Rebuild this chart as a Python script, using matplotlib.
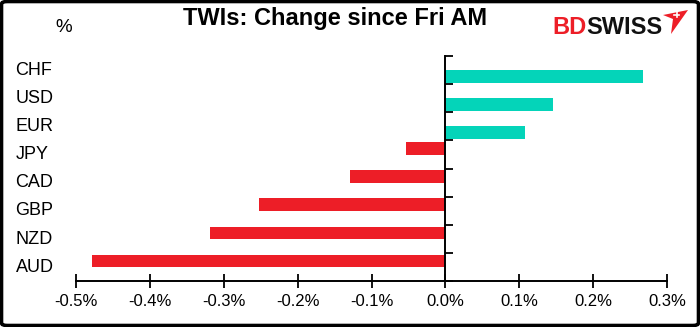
import matplotlib
matplotlib.use("Agg")
import matplotlib.pyplot as plt
from matplotlib.patches import FancyBboxPatch, Polygon
from matplotlib.lines import Line2D
from matplotlib.transforms import blended_transform_factory
from matplotlib.ticker import FuncFormatter, FixedLocator

# TWI change since Friday morning, in percent
currencies = ["CHF", "USD", "EUR", "JPY", "CAD", "GBP", "NZD", "AUD"]
changes = [0.267, 0.146, 0.108, -0.054, -0.129, -0.252, -0.319, -0.479]
x_ticks = [-0.5, -0.4, -0.3, -0.2, -0.1, 0.0, 0.1, 0.2, 0.3]

POS_COLOR = "#04D4B9"
NEG_COLOR = "#ED1E27"
FONT = "Liberation Sans"

W, H = 700, 327
fig = plt.figure(figsize=(W / 100, H / 100), dpi=100)

def px(x, y):
    """Pixel position (from top-left) to figure fraction."""
    return x / W, 1 - y / H

left, right = 76.3 / W, 667.0 / W
bottom, top = 1 - 281.3 / H, 1 - 56.0 / H
ax = fig.add_axes([left, bottom, right - left, top - bottom])

# Two series: gains sit just below each category centre, losses just above
gains = [v if v > 0 else 0 for v in changes]
losses = [v if v < 0 else 0 for v in changes]
idx = list(range(len(currencies)))
bh = 0.445
ax.barh([i + bh / 2 for i in idx], gains, height=bh, color=POS_COLOR, linewidth=0)
ax.barh([i - bh / 2 for i in idx], losses, height=bh, color=NEG_COLOR, linewidth=0)

ax.set_xlim(x_ticks[0], x_ticks[-1])
ax.set_ylim(len(currencies) - 0.5, -0.5)

# Axis lines: vertical axis at zero, horizontal at the bottom
for s in ("top", "right"):
    ax.spines[s].set_visible(False)
ax.spines["left"].set_position(("data", 0))
ax.spines["left"].set_linewidth(1.4)
ax.spines["bottom"].set_linewidth(1.4)

ax.xaxis.set_major_locator(FixedLocator(x_ticks))
ax.xaxis.set_major_formatter(FuncFormatter(lambda v, _: f"{v:.1f}%"))
ax.tick_params(axis="x", direction="inout", length=10, width=1.3, pad=4,
               labelsize=12, labelcolor="black")
for lab in ax.get_xticklabels():
    lab.set_fontfamily(FONT)

ax.yaxis.set_major_locator(FixedLocator([i - 0.5 for i in range(len(currencies) + 1)]))
ax.tick_params(axis="y", direction="in", length=6, width=1.3, labelleft=False)

# Category names, left-aligned near the figure edge
tr = blended_transform_factory(fig.transFigure, ax.transData)
for i, name in enumerate(currencies):
    ax.text(15.5 / W, i, name, transform=tr, ha="left", va="center",
            fontsize=13, fontfamily=FONT, color="black")

# Title and unit
fig.text(*px(335, 19), "TWIs: Change since Fri AM", ha="center", va="center",
         fontsize=17, fontweight="bold", fontfamily=FONT)
fig.text(*px(64, 27), "%", ha="center", va="center", fontsize=13.5, fontfamily=FONT)

# Brand mark: "BD" in red directly followed by "SWISS" in black
bd = fig.text(*px(552, 34), "BD", ha="left", va="baseline", fontsize=17,
              fontweight="bold", fontfamily=FONT, color=NEG_COLOR)
fig.canvas.draw()
bd_right = bd.get_window_extent().x1 / W
fig.text(bd_right + 0.5 / W, 1 - 34 / H, "SWISS", ha="left", va="baseline",
         fontsize=17, fontweight="bold", fontfamily=FONT, color="#111111")
mark = [px(663, 15), px(688, 10), px(671, 34), px(673, 19)]
fig.add_artist(Polygon(mark, closed=True, transform=fig.transFigure,
                       facecolor=NEG_COLOR, edgecolor="none"))
cx, cy = 676.5, 14.5
for (x0, y0), (x1, y1) in [((cx - 2.5, cy), (cx + 2.5, cy)), ((cx, cy - 2.5), (cx, cy + 2.5))]:
    (fx0, fy0), (fx1, fy1) = px(x0, y0), px(x1, y1)
    fig.add_artist(Line2D([fx0, fx1], [fy0, fy1], transform=fig.transFigure,
                          color="white", linewidth=1.2))

# Rounded frame around the whole chart
frame = FancyBboxPatch((1.5 / W, 1.5 / H), 1 - 3 / W, 1 - 3 / H,
                       boxstyle="round,pad=0,rounding_size=0.008",
                       transform=fig.transFigure, facecolor="none",
                       edgecolor="black", linewidth=2.6)
fig.add_artist(frame)

fig.savefig("out.png", dpi=100)
